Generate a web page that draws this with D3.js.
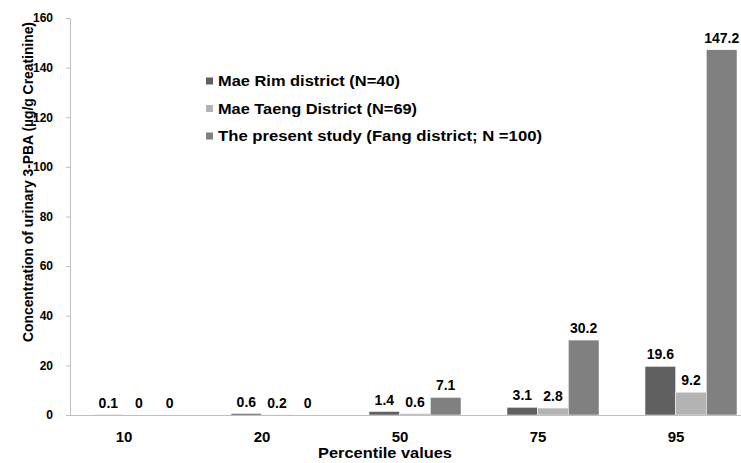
<!DOCTYPE html>
<html>
<head>
<meta charset="utf-8">
<script src="https://cdn.jsdelivr.net/npm/d3@7"></script>
<style>
  body { margin: 0; background: #fff; }
  svg { display: block; font-family: "Liberation Sans", Arial, sans-serif; }
</style>
</head>
<body>
<svg id="chart"></svg>
<script>
const percentiles = ['10', '20', '50', '75', '95'];
const seriesNames = ['Mae Rim district (N=40)', 'Mae Taeng District (N=69)', 'The present study (Fang district; N =100)'];
const maeRim = [0.1, 0.6, 1.4, 3.1, 19.6];
const maeTaeng = [0, 0.2, 0.6, 2.8, 9.2];
const fang = [0, 0, 7.1, 30.2, 147.2];
const yTicks = [0, 20, 40, 60, 80, 100, 120, 140, 160];
const colors = ['#606060', '#b3b3b3', '#808080'];

const width = 741, height = 463;
const plotLeft = 70, plotRight = 760, plotTop = 18, plotBottom = 415;

const svg = d3.select('#chart')
    .attr('width', width)
    .attr('height', height);

const series = [maeRim, maeTaeng, fang];
const rows = percentiles.map((p, i) => ({ p: p, values: series.map((s, k) => ({ k: k, v: s[i] })) }));

const x0 = d3.scaleBand()
    .domain(percentiles)
    .range([plotLeft, plotRight])
    .paddingInner(1 / 3)
    .paddingOuter(1 / 6);

const x1 = d3.scaleBand()
    .domain(d3.range(series.length))
    .range([0, x0.bandwidth()]);

const y = d3.scaleLinear()
    .domain([0, 160])
    .range([plotBottom, plotTop]);

// y axis
const yAxis = svg.append('g')
    .attr('transform', `translate(${plotLeft}, 0)`)
    .call(d3.axisLeft(y).tickValues(yTicks).tickSize(4).tickSizeOuter(0).tickPadding(13));
yAxis.select('.domain').attr('stroke', '#bfbfbf');
yAxis.selectAll('line').attr('stroke', '#bfbfbf');
yAxis.selectAll('text')
    .style('font-size', '12px')
    .style('font-weight', 'bold')
    .attr('fill', '#000');

// bars
const groups = svg.append('g').selectAll('g')
    .data(rows)
    .join('g')
    .attr('transform', d => `translate(${x0(d.p)}, 0)`);

groups.selectAll('rect')
    .data(d => d.values)
    .join('rect')
    .attr('x', d => x1(d.k))
    .attr('y', d => y(d.v))
    .attr('width', x1.bandwidth())
    .attr('height', d => y(0) - y(d.v))
    .attr('fill', d => colors[d.k])
    .attr('stroke', '#fff')
    .attr('stroke-width', 0.5);

groups.selectAll('text')
    .data(d => d.values)
    .join('text')
    .attr('x', d => x1(d.k) + x1.bandwidth() / 2)
    .attr('y', d => y(d.v) - 7)
    .attr('text-anchor', 'middle')
    .style('font-size', '14px')
    .style('font-weight', 'bold')
    .text(d => d.v);

// x axis
const xAxis = svg.append('g')
    .attr('transform', `translate(0, ${plotBottom})`)
    .call(d3.axisBottom(x0).tickSize(0).tickSizeOuter(0).tickPadding(16));
xAxis.select('.domain').attr('stroke', '#bfbfbf').attr('d', `M${plotLeft - 3},0.5H${plotRight}`);
xAxis.selectAll('text')
    .attr('dx', -15)
    .style('font-size', '15px')
    .style('font-weight', 'bold')
    .attr('fill', '#000');

// axis titles
svg.append('text')
    .attr('x', 385)
    .attr('y', 458)
    .attr('text-anchor', 'middle')
    .attr('textLength', 134)
    .attr('lengthAdjust', 'spacingAndGlyphs')
    .style('font-size', '14px')
    .style('font-weight', 'bold')
    .text('Percentile values');

svg.append('text')
    .attr('transform', 'translate(33, 182) rotate(-90)')
    .attr('text-anchor', 'middle')
    .attr('textLength', 320)
    .attr('lengthAdjust', 'spacingAndGlyphs')
    .style('font-size', '14px')
    .style('font-weight', 'bold')
    .text('Concentration of urinary 3-PBA (µg/g Creatinine)');

// legend
const legend = svg.append('g').selectAll('g')
    .data(seriesNames)
    .join('g')
    .attr('transform', (d, i) => `translate(206, ${81 + i * 27.5})`);

legend.append('rect')
    .attr('x', 0)
    .attr('y', -3.5)
    .attr('width', 7)
    .attr('height', 7)
    .attr('fill', (d, i) => colors[i]);

const legendLen = [182, 199, 324];
legend.append('text')
    .attr('x', 12)
    .attr('y', 5)
    .attr('textLength', (d, i) => legendLen[i])
    .attr('lengthAdjust', 'spacingAndGlyphs')
    .style('font-size', '14px')
    .style('font-weight', 'bold')
    .text(d => d);
</script>
</body>
</html>
